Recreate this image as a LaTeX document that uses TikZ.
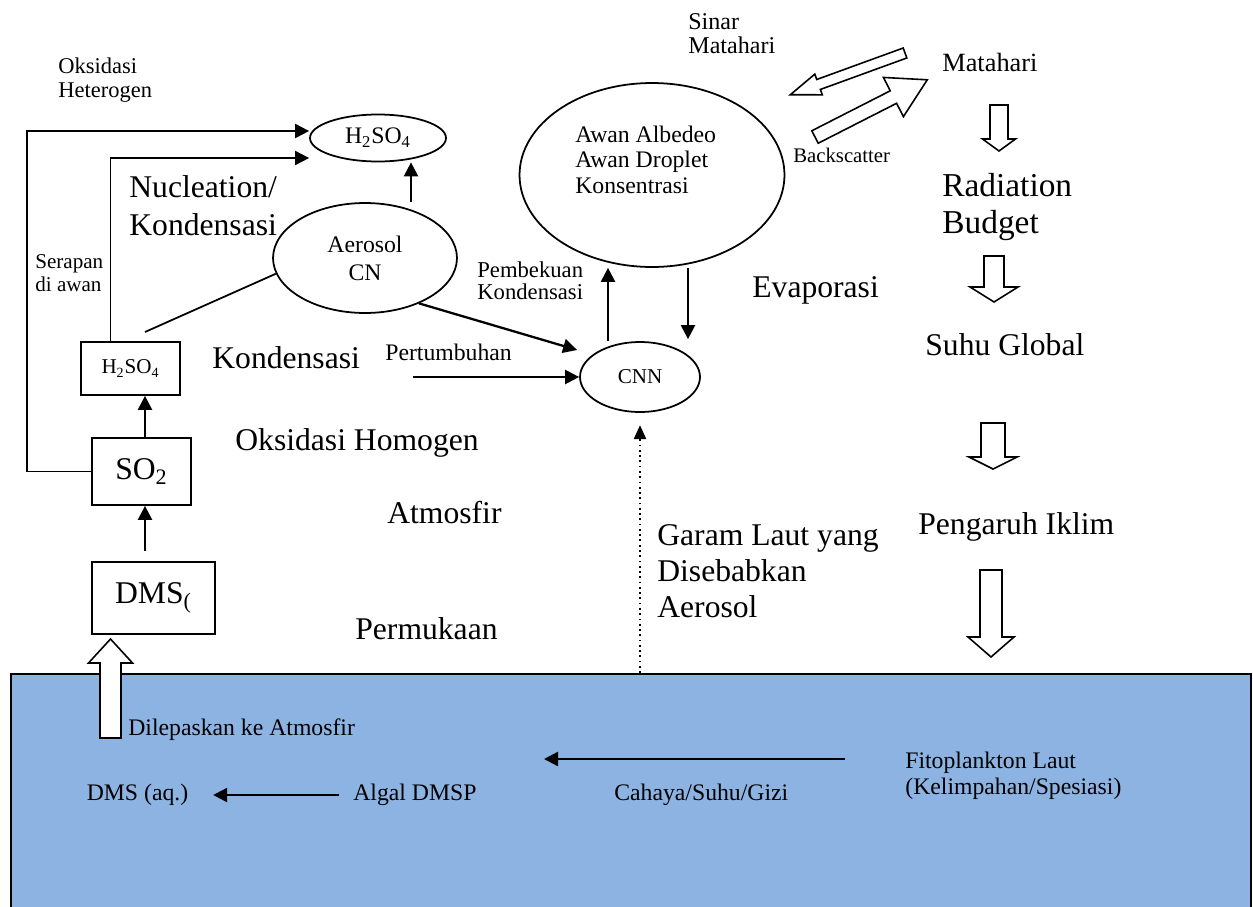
\documentclass[tikz,border=0pt]{standalone}
\usepackage{fontspec}
\setmainfont{Liberation Serif}
\usetikzlibrary{arrows.meta,positioning,calc,shapes.geometric}

\definecolor{seablue}{HTML}{8DB3E2}

% hollow block arrow: tail, angle, length, half shaft, half head, head length
\newcommand{\blockarrow}[6]{%
  \draw[fill=white, line width=0.9pt, shift={(#1)}, rotate=#2]
    (0,-#4) -- (#3-#6,-#4) -- (#3-#6,-#5) -- (#3,0) -- (#3-#6,#5) -- (#3-#6,#4) -- (0,#4) -- cycle;}

\begin{document}
\begin{tikzpicture}[
  x=0.02cm, y=0.02cm,
  bigtxt/.style={font=\fontsize{18}{21}\selectfont, inner sep=0pt, align=left},
  midtxt/.style={font=\fontsize{13.5}{14.5}\selectfont, inner sep=0pt, align=left},
  smalltxt/.style={font=\fontsize{12.8}{13.5}\selectfont, inner sep=0pt, align=left},
  bubble/.style={ellipse, draw, line width=1pt, inner sep=0pt, align=center, font=\fontsize{13.5}{16}\selectfont},
  box/.style={rectangle, draw, line width=1pt, inner sep=0pt, align=center},
  arr/.style={-{Triangle[length=8pt,width=8pt]}, line width=1.3pt},
  dotarr/.style={-{Triangle[length=8pt,width=7pt]}, line width=1pt, dotted},
  link/.style={line width=1pt}
]
\useasboundingbox (0,0) rectangle (1253,-906);

% sea
\node[draw, fill=seablue, line width=1.2pt, minimum width=24.8cm, minimum height=4.9cm,
      anchor=north west, inner sep=0pt] (sea) at (10,-673) {};

% left column
\node[box, minimum width=2.46cm, minimum height=1.44cm, font=\fontsize{18}{21}\selectfont] (dmsbox) at (153.5,-598) {DMS\textsubscript{(}};
\node[box, minimum width=1.98cm, minimum height=1.34cm, font=\fontsize{18}{21}\selectfont] (so2box) at (141.5,-471.5) {SO\textsubscript{2}};
\node[box, minimum width=1.98cm, minimum height=1.06cm, font=\fontsize{12}{14}\selectfont] (h2box) at (130.5,-368.5) {H\textsubscript{2}SO\textsubscript{4}};

% bubbles
\node[bubble, minimum width=2.72cm, minimum height=0.94cm] (h2top) at (378,-138) {H\textsubscript{2}SO\textsubscript{4}};
\node[bubble, minimum width=3.68cm, minimum height=2.2cm] (aerosol) at (365,-258) {Aerosol\\CN};
\node[bubble, minimum width=5.3cm, minimum height=3.68cm] (cloud) at (652,-175) {};
\node[bubble, minimum width=2.4cm, minimum height=1.4cm, font=\fontsize{12}{14}\selectfont] (cnn) at (640,-377) {CNN};

% labels
\node[smalltxt, anchor=west] (oksh) at (58,-80) {Oksidasi\\Heterogen};
\node[smalltxt, anchor=west, font=\fontsize{12}{13}\selectfont] (serap) at (35,-273.5) {Serapan\\di awan};
\node[bigtxt, anchor=west, font=\fontsize{18}{21.6}\selectfont] (nucl) at (129,-206) {Nucleation/\\Kondensasi};
\node[bigtxt, anchor=west] (kond) at (212,-358) {Kondensasi};
\node[bigtxt, anchor=west] (oksho) at (235,-443) {Oksidasi Homogen};
\node[bigtxt, anchor=west] (atmos) at (387,-513) {Atmosfir};
\node[bigtxt, anchor=west] (permuk) at (355,-629) {Permukaan};
\node[midtxt, anchor=west] (tumbuh) at (385,-352) {Pertumbuhan};
\node[smalltxt, anchor=west, font=\fontsize{12.9}{12.5}\selectfont] (beku) at (477,-281) {Pembekuan\\Kondensasi};
\node[midtxt, anchor=west] (cloudtxt) at (575,-159.5) {Awan Albedeo\\Awan Droplet\\Konsentrasi};
\node[midtxt, anchor=west, font=\fontsize{13.7}{13.7}\selectfont] (sinar) at (688,-34) {Sinar\\Matahari};
\node[midtxt, anchor=west, font=\fontsize{15}{17}\selectfont] (sun) at (942,-62) {Matahari};
\node[smalltxt, anchor=west, font=\fontsize{11.8}{13}\selectfont] (backsc) at (793,-155) {Backscatter};
\node[bigtxt, anchor=west] (evap) at (752,-290) {Evaporasi};
\node[bigtxt, anchor=west, font=\fontsize{19}{21.6}\selectfont] (radbud) at (942,-207) {Radiation\\Budget};
\node[bigtxt, anchor=west] (suhu) at (925,-345) {Suhu Global};
\node[bigtxt, anchor=west] (iklim) at (918,-527) {Pengaruh Iklim};
\node[bigtxt, anchor=west, font=\fontsize{18}{20.5}\selectfont] (garam) at (657,-571) {Garam Laut yang\\Disebabkan\\Aerosol};

% sea labels
\node[midtxt, anchor=west] (lepas) at (128,-730) {Dilepaskan ke Atmosfir};
\node[midtxt] (dmsaq) at (137.5,-795) {DMS (aq.)};
\node[midtxt, anchor=west] (algal) at (353,-795) {Algal DMSP};
\node[midtxt, anchor=west] (cahaya) at (614,-795) {Cahaya/Suhu/Gizi};
\node[midtxt, anchor=west] (fito) at (905,-776) {Fitoplankton Laut\\(Kelimpahan/Spesiasi)};

% connectors
\coordinate (colx) at (145,0);
\coordinate (upx) at (411,0);
\coordinate (risex) at (608,0);
\coordinate (fallx) at (688,0);
\coordinate (h2kink) at (145,-332);
\coordinate (growstart) at (413,-377);
\coordinate (fitotail) at (845,-759);
\coordinate (fitohead) at (544,-759);

\draw[arr, shorten <=6pt] (dmsbox.north -| colx) -- (so2box.south -| colx);
\draw[arr] (so2box.north -| colx) -- (h2box.south -| colx);
\draw[arr, line width=1.1pt] (so2box.west) -- ++(-64,0) |- ($(h2top.west)+(0,7)$);
\draw[arr, line width=1.1pt] ($(h2box.north)+(-20,0)$) |- ($(h2top.west)+(0,-20)$);
\draw[link] (h2kink) -- (aerosol.190);
\draw[arr] (aerosol.north -| upx) -- (h2top.south -| upx);
\draw[arr] (aerosol.-40) -- ($(cnn.west)+(-2,27)$);
\draw[arr] (growstart) -- (cnn.west);
\draw[arr] (cnn.north -| risex) -- (cloud.south -| risex);
\draw[arr] (cloud.south -| fallx) -- ($(cnn.north -| fallx)+(0,2)$);
\draw[dotarr, shorten >=7pt] (cnn.south |- sea.north) -- (cnn.south);
\draw[arr] (fitotail) -- (fitohead);
\draw[arr, shorten <=8pt, shorten >=14pt] (algal.west) -- (dmsaq.east);

% block arrows
\blockarrow{110.5,-738}{90}{99}{10.5}{22}{24}
\blockarrow{905,-53}{200}{122}{5.3}{11}{30}
\blockarrow{815,-137}{27}{126}{7}{22}{38}
\blockarrow{999,-105}{-90}{46}{9}{16.5}{12}
\blockarrow{994,-256}{-90}{46}{10}{24}{15}
\blockarrow{993,-423}{-90}{46}{12}{24}{12}
\blockarrow{991,-570}{-90}{87}{11}{23}{20}

\end{tikzpicture}
\end{document}
